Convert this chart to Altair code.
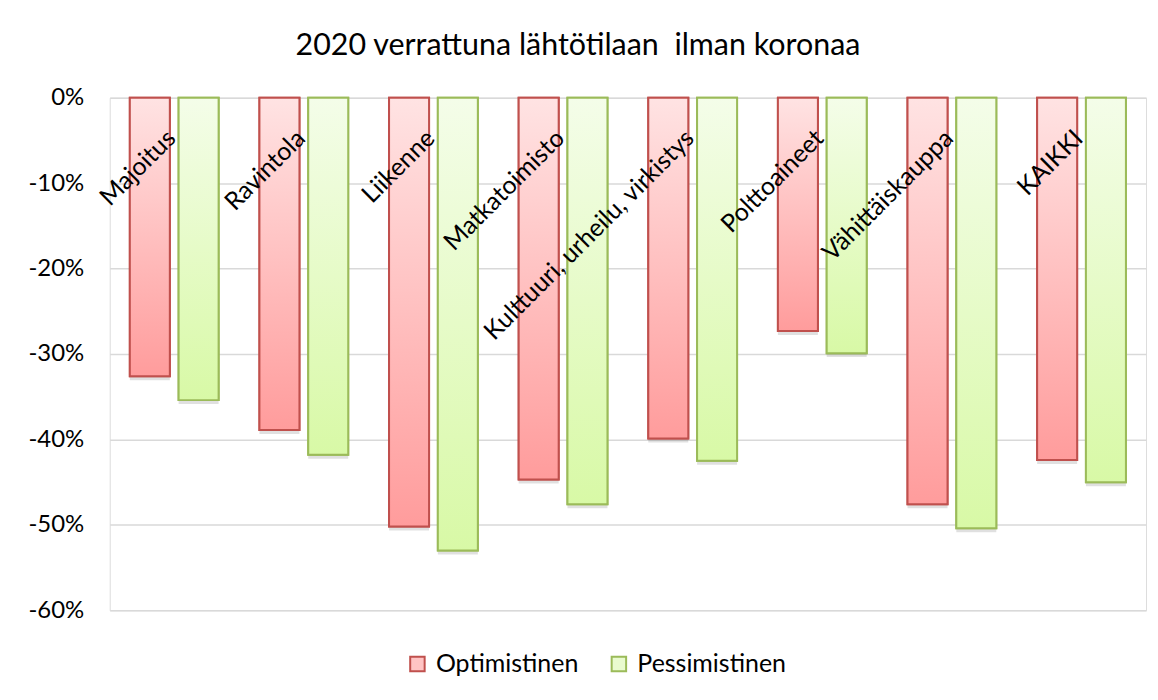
import altair as alt
import pandas as pd

categories = ["Majoitus", "Ravintola", "Liikenne", "Matkatoimisto",
              "Kulttuuri, urheilu, virkistys", "Polttoaineet",
              "Vähittäiskauppa", "KAIKKI"]
optimistinen = [-0.326, -0.389, -0.502, -0.447, -0.399, -0.273, -0.476, -0.424]
pessimistinen = [-0.354, -0.418, -0.530, -0.476, -0.425, -0.299, -0.504, -0.450]
series = ["Optimistinen", "Pessimistinen"]
y_ticks = [0, -0.1, -0.2, -0.3, -0.4, -0.5, -0.6]

rows = []
for c, o, p in zip(categories, optimistinen, pessimistinen):
    rows.append({"cat": c, "series": series[0], "value": o})
    rows.append({"cat": c, "series": series[1], "value": p})
df = pd.DataFrame(rows)
labels_df = pd.DataFrame({"cat": categories})

FONT = "Lato"

x_scale = alt.Scale(paddingInner=0.315, paddingOuter=0.155)
x_enc = alt.X("cat:N", sort=categories, axis=None, scale=x_scale)
xo_enc = alt.XOffset("series:N", sort=series,
                     scale=alt.Scale(domain=series, paddingInner=0.18, paddingOuter=0))
y_enc = alt.Y("value:Q",
              scale=alt.Scale(domain=[-0.6, 0], nice=False),
              axis=alt.Axis(values=y_ticks, title=None,
                            labelExpr="replace(format(datum.value, '.0%'), '\u2212', '-')",
                            domain=False, ticks=False, labelPadding=26,
                            minExtent=80, maxExtent=80,
                            labelFontSize=24, labelFont=FONT, labelColor="#000000",
                            gridColor="#D9D9D9", gridWidth=1.5))

red_grad = alt.Gradient(gradient="linear",
                        stops=[alt.GradientStop(color="#FFE3E3", offset=0),
                               alt.GradientStop(color="#FF9C9C", offset=1)],
                        x1=0, x2=0, y1=0, y2=1)
green_grad = alt.Gradient(gradient="linear",
                          stops=[alt.GradientStop(color="#F4FDE9", offset=0),
                                 alt.GradientStop(color="#D8F9A6", offset=1)],
                          x1=0, x2=0, y1=0, y2=1)

base = alt.Chart(df)

shadow = base.mark_bar(color="#000000", opacity=0.12, yOffset=4, xOffset=2).encode(
    x=x_enc, xOffset=xo_enc, y=y_enc, y2=alt.datum(0))

legend_layer = base.mark_bar(strokeWidth=2).encode(
    x=x_enc, xOffset=xo_enc, y=y_enc, y2=alt.datum(0),
    fill=alt.Fill("series:N", sort=series,
                  scale=alt.Scale(domain=series, range=["#FFC4C4", "#E9FBCF"]),
                  legend=alt.Legend(title=None, orient="none", direction="horizontal",
                                    legendX=296, legendY=555,
                                    symbolType="square", symbolSize=210,
                                    symbolStrokeWidth=2, labelFontSize=25,
                                    labelFont=FONT, labelColor="#000000",
                                    columnPadding=28, labelOffset=6)),
    stroke=alt.Stroke("series:N", sort=series,
                      scale=alt.Scale(domain=series, range=["#C0504D", "#9BBB59"])))

opt_layer = base.transform_filter(alt.datum.series == series[0]).mark_bar(
    fill=red_grad, stroke="#C0504D", strokeWidth=2).encode(
    x=x_enc, xOffset=xo_enc, y=y_enc, y2=alt.datum(0))

pess_layer = base.transform_filter(alt.datum.series == series[1]).mark_bar(
    fill=green_grad, stroke="#9BBB59", strokeWidth=2).encode(
    x=x_enc, xOffset=xo_enc, y=y_enc, y2=alt.datum(0))

labels = alt.Chart(labels_df).mark_text(
    angle=315, align="right", baseline="middle", dx=-28, dy=24,
    fontSize=25, font=FONT, color="#000000").encode(
    x=alt.X("cat:N", sort=categories, axis=None, scale=x_scale),
    y=alt.datum(0),
    text=alt.Text("cat:N"))

chart = alt.layer(shadow, legend_layer, opt_layer, pess_layer, labels).properties(
    width=1039, height=514,
    padding={"left": 20, "top": 22, "right": 4, "bottom": 10},
    title=alt.TitleParams("2020 verrattuna lähtötilaan\u00a0 ilman koronaa",
                          fontSize=30.5, font=FONT, fontWeight="normal",
                          color="#000000", offset=24, anchor="middle",
                          frame="group", dx=-50),
).configure_view(stroke=None).configure(background="#FFFFFF")

chart.save("out.html", embed_options={"renderer": "svg", "actions": False})
